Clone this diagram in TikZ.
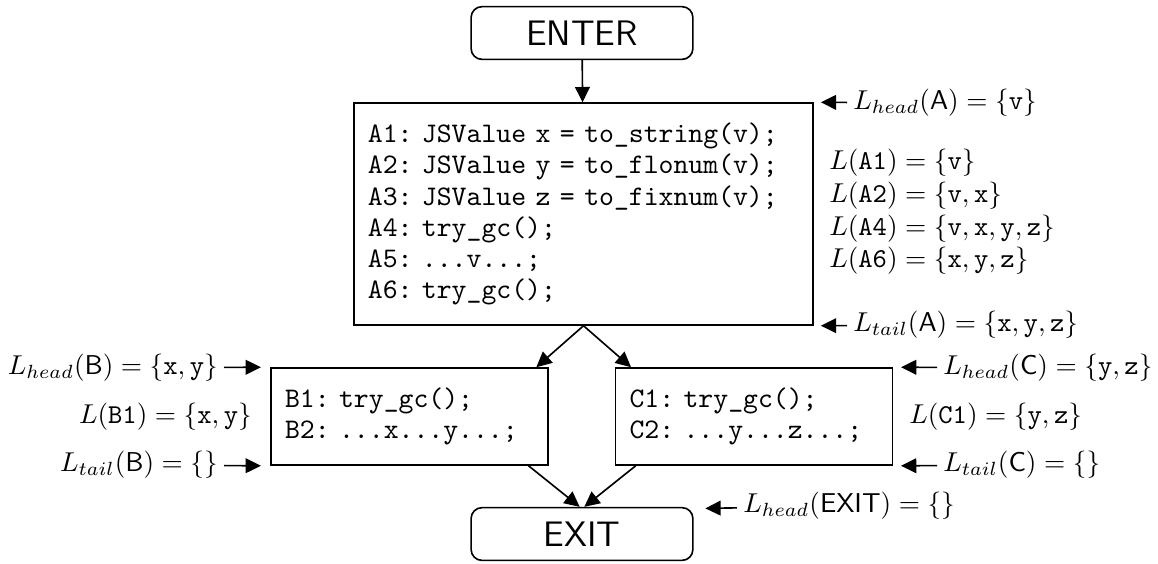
\documentclass[tikz,border=0pt]{standalone}
\usetikzlibrary{arrows.meta}
\begin{document}
\begin{tikzpicture}[x=0.0129cm, y=-0.0129cm, line width=0.6pt,
    flow/.style={-{Triangle[length=5.6pt,width=5.4pt]}},
    term/.style={draw, rounded corners=4pt, minimum width=2.86cm, minimum height=0.68cm, font=\fontsize{13}{15}\selectfont\sffamily},
    block/.style={draw, align=left, inner sep=0.18cm, font=\ttfamily\fontsize{10.4}{11.4}\selectfont\frenchspacing},
    live/.style={inner sep=2pt, font=\fontsize{10}{12}\selectfont}]
    \useasboundingbox (0,0) rectangle (1158,563);

    % Blocchi
    \node[term] (enter) at (582,33) {ENTER};
    \node[block, text width=5.56cm, minimum height=2.86cm] (A) at (583.5,214)
        {A1: JSValue x = to\_string(v);\\
         A2: JSValue y = to\_flonum(v);\\
         A3: JSValue z = to\_fixnum(v);\\
         A4: try\_gc();\\
         A5: ...v...;\\
         A6: try\_gc();};
    \node[block, text width=3.21cm, minimum height=1.25cm] (B) at (409.5,416.5)
        {B1: try\_gc();\\
         B2: ...x...y...;};
    \node[block, text width=3.21cm, minimum height=1.25cm] (C) at (754,416.5)
        {C1: try\_gc();\\
         C2: ...y...z...;};
    \node[term] (exit) at (582,534) {EXIT};

    % Archi
    \draw[flow] (enter) -- (A);
    \draw[flow] (A.south) -- ([xshift=-0.16cm]B.north east);
    \draw[flow] (A.south) -- ([xshift=0.21cm]C.north west);
    \draw[flow] ([xshift=-0.26cm]B.south east) -- ([xshift=-0.03cm]exit.north);
    \draw[flow] ([xshift=0.27cm]C.south west) -- ([xshift=0.03cm]exit.north);

    % Insiemi live
    \node[live, anchor=west] (hA) at (847,103) {$L_{head}(\mathsf{A}) = \{\mathtt{v}\}$};
    \node[live, anchor=west, align=left] (inA) at (823,212)
        {$L(\mathtt{A1}) = \{\mathtt{v}\}$\\
         $L(\mathtt{A2}) = \{\mathtt{v},\mathtt{x}\}$\\
         $L(\mathtt{A4}) = \{\mathtt{v},\mathtt{x},\mathtt{y},\mathtt{z}\}$\\
         $L(\mathtt{A6}) = \{\mathtt{x},\mathtt{y},\mathtt{z}\}$};
    \node[live, anchor=west] (tA) at (847,325) {$L_{tail}(\mathsf{A}) = \{\mathtt{x},\mathtt{y},\mathtt{z}\}$};

    \node[live, anchor=east] (hB) at (224,368) {$L_{head}(\mathsf{B}) = \{\mathtt{x},\mathtt{y}\}$};
    \node[live, anchor=east] (inB) at (258,417) {$L(\mathtt{B1}) = \{\mathtt{x},\mathtt{y}\}$};
    \node[live, anchor=east] (tB) at (224,465) {$L_{tail}(\mathsf{B}) = \{\}$};

    \node[live, anchor=west] (hC) at (937,368) {$L_{head}(\mathsf{C}) = \{\mathtt{y},\mathtt{z}\}$};
    \node[live, anchor=west] (inC) at (903,417) {$L(\mathtt{C1}) = \{\mathtt{y},\mathtt{z}\}$};
    \node[live, anchor=west] (tC) at (937,465) {$L_{tail}(\mathsf{C}) = \{\}$};

    \node[live, anchor=west] (hX) at (737,506) {$L_{head}(\mathsf{EXIT}) = \{\}$};

    % Frecce delle etichette
    \coordinate (hAtip) at ([xshift=0.09cm]A.north east);
    \coordinate (tAtip) at ([xshift=0.09cm]A.south east);
    \coordinate (hBtip) at ([xshift=-0.12cm]B.north west);
    \coordinate (tBtip) at ([xshift=-0.12cm]B.south west);
    \coordinate (hCtip) at ([xshift=0.1cm]C.north east);
    \coordinate (tCtip) at ([xshift=0.1cm]C.south east);
    \coordinate (hXtip) at ([xshift=0.15cm,yshift=-0.02cm]exit.north east);
    \foreach \lab in {hA,tA,hB,tB,hC,tC,hX}
        \draw[flow] (\lab) -- (\lab tip);
\end{tikzpicture}
\end{document}
